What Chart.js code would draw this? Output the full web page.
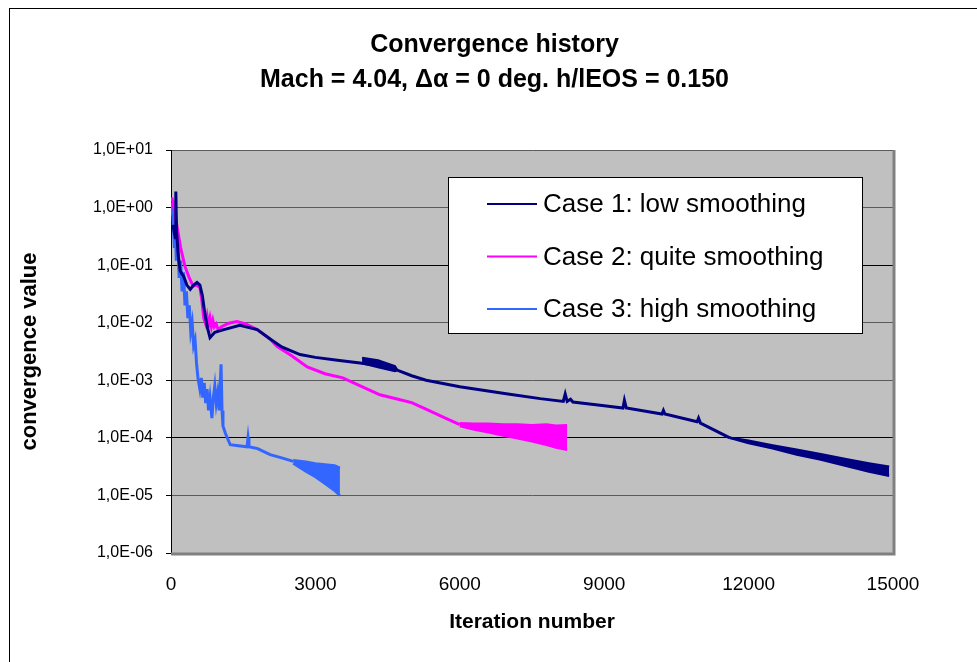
<!DOCTYPE html>
<html>
<head>
<meta charset="utf-8">
<title>Convergence history</title>
<script src="https://cdn.jsdelivr.net/npm/chart.js@4.4.0/dist/chart.umd.min.js"></script>
<style>
  body { margin: 0; background: #fff; overflow: hidden; }
  #wrap { position: relative; width: 977px; height: 662px; }
  #frame { position: absolute; left: 9px; top: 8px; width: 1000px; height: 700px; border: 1px solid #000; pointer-events: none; }
</style>
</head>
<body>
<div id="wrap">
  <canvas id="conv" width="977" height="662"></canvas>
  <div id="frame"></div>
</div>
<script>
  "use strict";

  // axis ticks
  var xTicks = [0, 3000, 6000, 9000, 12000, 15000];
  var xTickLabels = ['0', '3000', '6000', '9000', '12000', '15000'];
  var yTicks = [1e-6, 1e-5, 1e-4, 1e-3, 1e-2, 1e-1, 1, 10];
  var yTickLabels = ['1,0E-06', '1,0E-05', '1,0E-04', '1,0E-03', '1,0E-02', '1,0E-01', '1,0E+00', '1,0E+01'];

  var seriesNames = ['Case 1: low smoothing', 'Case 2: quite smoothing', 'Case 3: high smoothing'];
  var seriesColors = ['#000080', '#FF00FF', '#3366FF'];

  // Case 1: low smoothing (main curve)
  var case1Iter = [40, 90, 100, 115, 150, 190, 230, 260, 330, 400, 470, 540, 600, 650, 700, 760, 810, 910, 1080,
    1430, 1790, 2060, 2300, 2680, 3000, 3500, 3930, 4300, 4700, 5000, 5300, 6000, 7000, 7670,
    8150, 8190, 8230, 8300, 8350, 9000, 9390, 9420, 9460, 10200, 10230, 10260, 10930, 10960, 11000, 11610];
  var case1Val = [0.5, 0.3, 1.9, 0.4, 0.15, 0.08, 0.07, 0.065, 0.045, 0.038, 0.045, 0.05, 0.045, 0.03, 0.015, 0.008, 0.0055, 0.0068, 0.0075,
    0.009, 0.0076, 0.0052, 0.0038, 0.0028, 0.0025, 0.0022, 0.002, 0.0018, 0.0015, 0.0012, 0.001, 0.00077, 0.00058, 0.00048,
    0.00043, 0.00058, 0.00043, 0.00047, 0.00042, 0.00036, 0.00033, 0.00045, 0.00033, 0.00026, 0.0003, 0.00026, 0.00019, 0.00022, 0.00018, 0.0001];
  // oscillation envelopes (upper / lower) of case 1
  var case1BumpIter = [3970, 4300, 4650, 4700];
  var case1BumpHi = [2.45e-3, 2.2e-3, 1.75e-3, 1.5e-3];
  var case1BumpLo = [2.0e-3, 1.7e-3, 1.45e-3, 1.5e-3];
  var case1TailIter = [11610, 12000, 12500, 13000, 13500, 14000, 14500, 14920];
  var case1TailHi = [1.0e-4, 8.9e-5, 7.4e-5, 6.2e-5, 5.2e-5, 4.3e-5, 3.6e-5, 3.15e-5];
  var case1TailLo = [1.0e-4, 8.1e-5, 6.6e-5, 5.15e-5, 4.2e-5, 3.3e-5, 2.6e-5, 2.2e-5];

  // Case 2: quite smoothing
  var case2Iter = [20, 60, 120, 200, 290, 380, 460, 530, 600, 640, 680,
    720, 750, 780, 810, 840, 870, 900, 940, 980, 1050,
    1200, 1370, 1550, 1800, 2060, 2200, 2500, 2830, 3200, 3570, 4000, 4340, 4760, 5000, 5320, 5700, 6000];
  var case2Val = [1.5, 1.0, 0.5, 0.2, 0.095, 0.06, 0.043, 0.045, 0.041, 0.025, 0.012,
    0.0095, 0.013, 0.009, 0.012, 0.0085, 0.011, 0.0085, 0.0095, 0.0075, 0.0085,
    0.0098, 0.0105, 0.0095, 0.0075, 0.0052, 0.0039, 0.0027, 0.0017, 0.0013, 0.0011, 0.00075, 0.00056, 0.00046, 0.00041, 0.00031, 0.00022, 1.7e-4];
  var case2TailIter = [6000, 6300, 6600, 6900, 7200, 7500, 7800, 8000, 8230];
  var case2TailHi = [1.8e-4, 1.75e-4, 1.75e-4, 1.7e-4, 1.7e-4, 1.65e-4, 1.7e-4, 1.62e-4, 1.65e-4];
  var case2TailLo = [1.6e-4, 1.4e-4, 1.25e-4, 1.1e-4, 0.98e-4, 0.87e-4, 0.76e-4, 0.68e-4, 0.62e-4];

  // Case 3: high smoothing
  var case3Iter = [0, 40, 70, 90, 110, 140, 170, 200, 230, 260, 290, 320, 350, 380, 410, 440, 470, 500, 530, 560,
    600, 630, 660, 690, 720, 750, 780, 810, 850, 880, 910, 940, 970, 1000, 1040, 1060, 1080, 1130, 1230,
    1400, 1580, 1600, 1620, 1800, 2060, 2300, 2540];
  var case3Val = [1.2, 0.7, 0.2, 0.45, 0.12, 0.25, 0.06, 0.12, 0.035, 0.075, 0.02, 0.035, 0.012, 0.02, 0.007, 0.01, 0.004, 0.005, 0.002, 0.0011,
    0.0007, 0.0011, 0.0005, 0.0009, 0.0004, 0.0007, 0.0003, 0.0005, 0.00022, 0.0005, 0.0008, 0.0004, 0.0006, 0.0003, 0.0019, 0.0003, 0.00016, 0.00012, 0.000076,
    0.000073, 0.00007, 0.0001, 0.00007, 0.000065, 0.000051, 0.000045, 0.000039];
  var case3TailIter = [2540, 2800, 3000, 3200, 3400, 3510];
  var case3TailHi = [4.1e-5, 3.85e-5, 3.6e-5, 3.45e-5, 3.3e-5, 3.0e-5];
  var case3TailLo = [3.6e-5, 2.6e-5, 2.1e-5, 1.6e-5, 1.2e-5, 1.0e-5];

  var toPoints = function(iters, vals) {
    return iters.map(function(it, i) { return { x: it, y: vals[i] }; });
  };

  // a noisy stretch is drawn as a filled band between its upper and lower envelope
  var bandSets = function(iters, hi, lo, color) {
    return [{
      band: true,
      data: toPoints(iters, hi),
      borderColor: color,
      borderWidth: 2.5,
      fill: false
    }, {
      band: true,
      data: toPoints(iters, lo),
      borderColor: color,
      backgroundColor: color,
      borderWidth: 2.5,
      fill: '-1'
    }];
  };

  var font = '"Liberation Sans", Arial, sans-serif';

  // grey plot area with the excel-like shadow border
  var plotArea = {
    id: 'plotArea',
    beforeDraw: function(chart) {
      var a = chart.chartArea, ctx = chart.ctx;
      ctx.save();
      ctx.fillStyle = '#C0C0C0';
      ctx.fillRect(a.left, a.top, a.right - a.left, a.bottom - a.top);
      ctx.restore();
    },
    beforeDatasetsDraw: function(chart) {
      var a = chart.chartArea, ctx = chart.ctx;
      ctx.save();
      ctx.strokeStyle = '#808080';
      ctx.lineWidth = 3;
      ctx.beginPath();
      ctx.moveTo(a.left, a.bottom + 1);
      ctx.lineTo(a.right + 1, a.bottom + 1);
      ctx.lineTo(a.right + 1, a.top);
      ctx.stroke();
      ctx.restore();
    }
  };

  // boxed legend sitting inside the plot
  var legendBox = {
    id: 'legendBox',
    afterDraw: function(chart) {
      var ctx = chart.ctx;
      ctx.save();
      ctx.fillStyle = '#fff';
      ctx.fillRect(448.5, 177.5, 414, 156);
      ctx.strokeStyle = '#000';
      ctx.lineWidth = 1;
      ctx.strokeRect(448.5, 177.5, 414, 156);
      ctx.font = '26px ' + font;
      ctx.textBaseline = 'middle';
      chart.data.datasets.filter(function(ds) { return !ds.band; }).forEach(function(ds, i) {
        var y = 204 + i * 52.5;
        ctx.strokeStyle = ds.borderColor;
        ctx.lineWidth = 2;
        ctx.beginPath();
        ctx.moveTo(487, y);
        ctx.lineTo(537, y);
        ctx.stroke();
        ctx.fillStyle = '#000';
        ctx.fillText(ds.label, 543, y + 1);
      });
      ctx.restore();
    }
  };

  var datasets = [{
    label: seriesNames[0],
    data: toPoints(case1Iter, case1Val),
    borderColor: seriesColors[0],
    borderWidth: 3
  }, {
    label: seriesNames[1],
    data: toPoints(case2Iter, case2Val),
    borderColor: seriesColors[1],
    borderWidth: 3
  }, {
    label: seriesNames[2],
    data: toPoints(case3Iter, case3Val),
    borderColor: seriesColors[2],
    borderWidth: 3
  }]
    .concat(bandSets(case1BumpIter, case1BumpHi, case1BumpLo, seriesColors[0]))
    .concat(bandSets(case1TailIter, case1TailHi, case1TailLo, seriesColors[0]))
    .concat(bandSets(case2TailIter, case2TailHi, case2TailLo, seriesColors[1]))
    .concat(bandSets(case3TailIter, case3TailHi, case3TailLo, seriesColors[2]));

  new Chart(document.getElementById('conv'), {
    type: 'line',
    data: { datasets: datasets },
    options: {
      responsive: false,
      animation: false,
      layout: { padding: { left: 12, right: 0, top: 0, bottom: 0 } },
      elements: { point: { radius: 0 }, line: { tension: 0 } },
      plugins: {
        legend: { display: false },
        tooltip: { enabled: false },
        title: {
          display: true,
          text: ['Convergence history', 'Mach = 4.04, \u0394\u03B1 = 0 deg. h/lEOS = 0.150'],
          color: '#000',
          font: { family: font, size: 25, weight: 'bold', lineHeight: 1.4 },
          padding: { top: 27.5, bottom: 52.5 }
        }
      },
      scales: {
        x: {
          type: 'linear',
          min: 0,
          max: 15000,
          afterBuildTicks: function(scale) {
            scale.ticks = xTicks.map(function(v) { return { value: v }; });
          },
          afterFit: function(scale) { scale.height = 109; },
          grid: { display: false },
          border: { display: false },
          ticks: {
            color: '#000',
            padding: 12,
            maxRotation: 0,
            font: { family: font, size: 19 },
            callback: function(v, i) { return xTickLabels[i]; }
          },
          title: {
            display: true,
            text: 'Iteration number',
            color: '#000',
            font: { family: font, size: 21, weight: 'bold' },
            padding: { top: 0, bottom: 27 }
          }
        },
        y: {
          type: 'logarithmic',
          min: 1e-6,
          max: 10,
          afterBuildTicks: function(scale) {
            scale.ticks = yTicks.map(function(v) { return { value: v }; });
          },
          afterFit: function(scale) { scale.width = 159; },
          border: { display: true, color: '#000', width: 1 },
          grid: {
            color: function(ctx) {
              var v = ctx.tick ? ctx.tick.value : 0;
              return (v === 1e-1 || v === 1e-4) ? '#000' : '#5a5a5a';
            },
            lineWidth: 1,
            tickLength: 5,
            tickColor: '#000'
          },
          ticks: {
            color: '#000',
            padding: 13,
            font: { family: font, size: 16 },
            callback: function(v, i) { return yTickLabels[i]; }
          },
          title: {
            display: true,
            text: 'convergence value',
            color: '#000',
            font: { family: font, size: 22, weight: 'bold' },
            padding: { top: 5, bottom: 0 }
          }
        },
        // empty right-hand box so the plot stops short of the frame edge
        yPad: {
          type: 'linear',
          position: 'right',
          afterFit: function(scale) { scale.width = 84; },
          grid: { display: false },
          border: { display: false },
          ticks: { display: false }
        }
      }
    },
    plugins: [plotArea, legendBox]
  });
</script>
</body>
</html>
